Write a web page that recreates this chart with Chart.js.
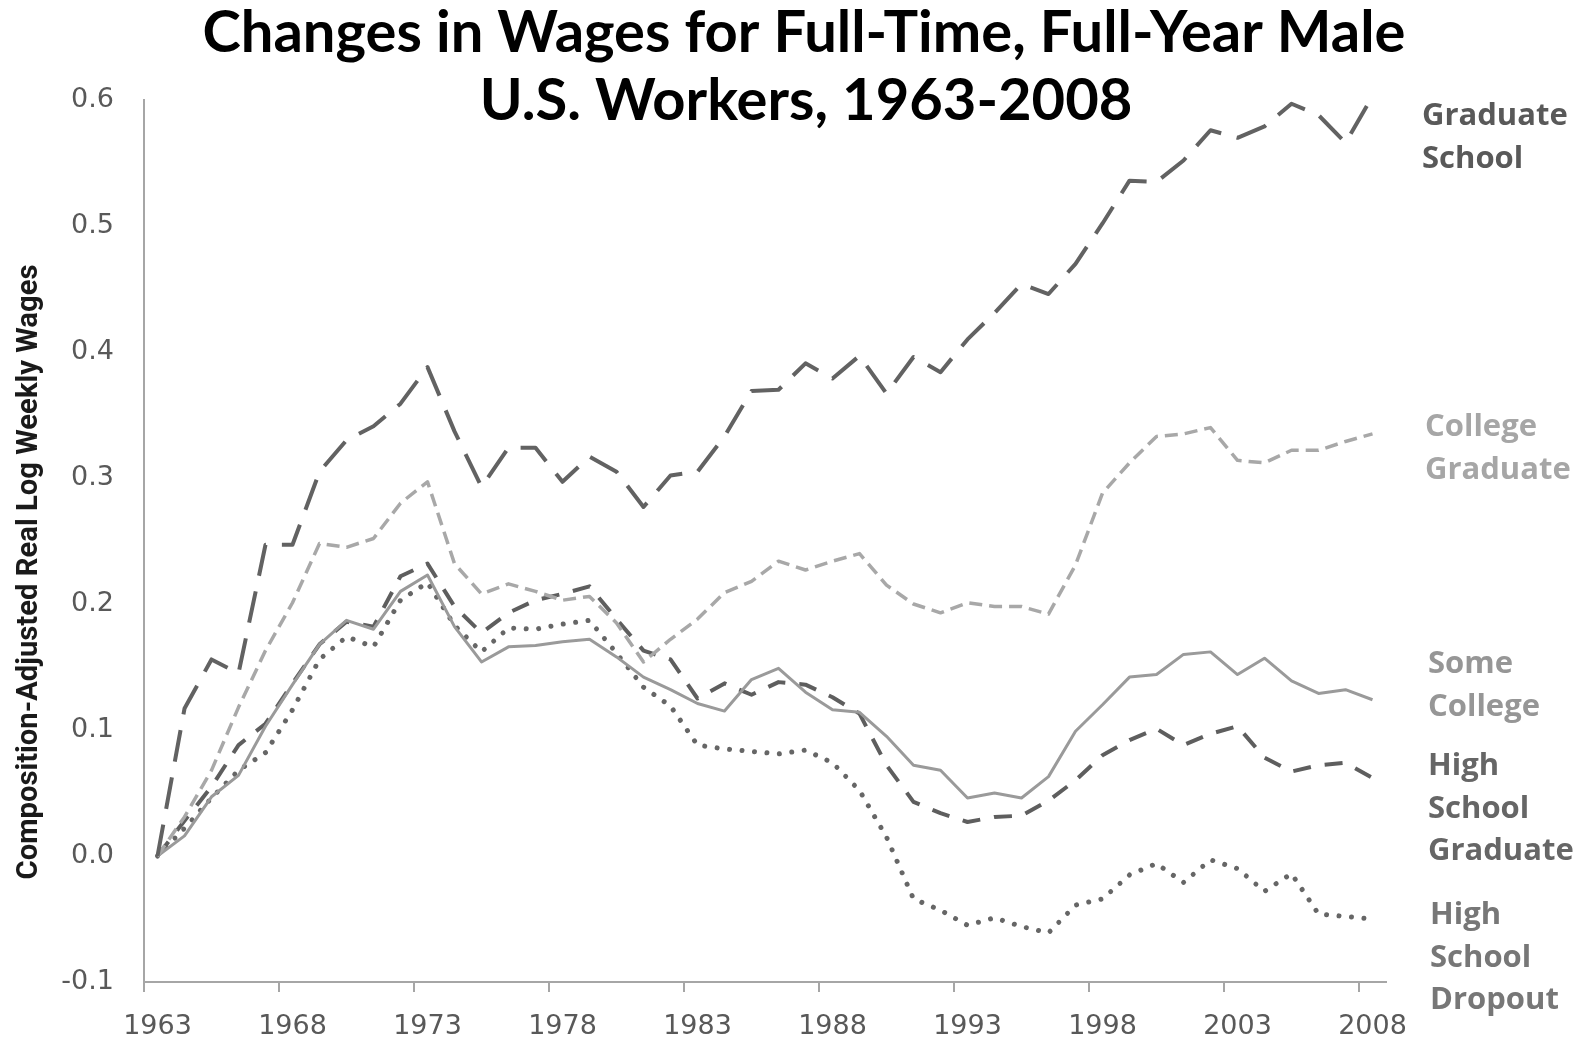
<!DOCTYPE html>
<html lang="en">
<head>
<meta charset="UTF-8">
<title>Changes in Wages for Full-Time, Full-Year Male U.S. Workers, 1963-2008</title>
<script src="https://cdn.jsdelivr.net/npm/chart.js"></script>
<style>
    html, body { margin: 0; padding: 0; background: #ffffff; }
    #wageChart { display: block; }
</style>
</head>
<body>
<canvas id="wageChart" width="1585" height="1039"></canvas>
<script>
    // categories
    var years = ['1963', '1964', '1965', '1966', '1967', '1968', '1969', '1970', '1971', '1972',
                 '1973', '1974', '1975', '1976', '1977', '1978', '1979', '1980', '1981', '1982',
                 '1983', '1984', '1985', '1986', '1987', '1988', '1989', '1990', '1991', '1992',
                 '1993', '1994', '1995', '1996', '1997', '1998', '1999', '2000', '2001', '2002',
                 '2003', '2004', '2005', '2006', '2007', '2008'];

    // composition-adjusted real log weekly wages, relative to 1963
    var gradSchool = [0, 0.117, 0.156, 0.145, 0.247, 0.247, 0.305, 0.330, 0.341, 0.359,
                      0.388, 0.337, 0.293, 0.324, 0.324, 0.297, 0.317, 0.305, 0.277, 0.302,
                      0.305, 0.333, 0.369, 0.370, 0.391, 0.379, 0.397, 0.367, 0.396, 0.384,
                      0.410, 0.431, 0.454, 0.446, 0.470, 0.502, 0.536, 0.535, 0.552, 0.576,
                      0.570, 0.579, 0.597, 0.588, 0.566, 0.603];
    var collegeGrad = [0, 0.031, 0.068, 0.118, 0.163, 0.201, 0.248, 0.245, 0.252, 0.280,
                       0.297, 0.232, 0.208, 0.216, 0.210, 0.203, 0.206, 0.185, 0.154, 0.172,
                       0.188, 0.209, 0.218, 0.234, 0.227, 0.234, 0.240, 0.215, 0.200, 0.193,
                       0.201, 0.198, 0.198, 0.192, 0.231, 0.288, 0.312, 0.333, 0.335, 0.340,
                       0.314, 0.312, 0.322, 0.322, 0.329, 0.335];
    var someCollege = [0, 0.016, 0.047, 0.064, 0.103, 0.136, 0.168, 0.187, 0.180, 0.210,
                       0.223, 0.182, 0.154, 0.166, 0.167, 0.170, 0.172, 0.158, 0.142, 0.132,
                       0.121, 0.115, 0.140, 0.149, 0.130, 0.116, 0.114, 0.095, 0.072, 0.068,
                       0.046, 0.050, 0.046, 0.063, 0.099, 0.120, 0.142, 0.144, 0.160, 0.162,
                       0.144, 0.157, 0.139, 0.129, 0.132, 0.124];
    var hsGrad = [0, 0.028, 0.055, 0.088, 0.105, 0.137, 0.168, 0.186, 0.182, 0.222,
                  0.232, 0.198, 0.177, 0.193, 0.203, 0.208, 0.214, 0.188, 0.163, 0.156,
                  0.125, 0.137, 0.128, 0.138, 0.136, 0.126, 0.113, 0.072, 0.043, 0.034,
                  0.027, 0.031, 0.032, 0.044, 0.060, 0.080, 0.092, 0.101, 0.088, 0.097,
                  0.103, 0.078, 0.067, 0.072, 0.074, 0.062];
    var hsDropout = [0, 0.022, 0.046, 0.068, 0.082, 0.116, 0.156, 0.174, 0.166, 0.203,
                     0.217, 0.183, 0.162, 0.181, 0.180, 0.184, 0.187, 0.161, 0.134, 0.119,
                     0.088, 0.085, 0.083, 0.081, 0.084, 0.074, 0.052, 0.015, -0.034, -0.043,
                     -0.055, -0.049, -0.056, -0.061, -0.039, -0.034, -0.015, -0.006, -0.021, -0.003,
                     -0.010, -0.028, -0.014, -0.046, -0.048, -0.050];

    var titleLines = ['Changes in Wages for Full-Time, Full-Year Male', 'U.S. Workers, 1963-2008'];
    var yTitle = 'Composition-Adjusted Real Log Weekly Wages';

    // text placed to the right of the plot, one block per series
    var sideLabels = [
        { lines: ['Graduate', 'School'], at: 0.587, x: 1422, color: '#595959' },
        { lines: ['College', 'Graduate'], at: 0.340, x: 1425, color: '#a6a6a6' },
        { lines: ['Some', 'College'], at: 0.152, x: 1428, color: '#969696' },
        { lines: ['High', 'School', 'Graduate'], at: 0.071, x: 1428, color: '#666666' },
        { lines: ['High', 'School', 'Dropout'], at: -0.047, x: 1430, color: '#777777' }
    ];

    var textPlugin = {
        id: 'textPlugin',
        afterDraw: function (chart) {
            var ctx = chart.ctx;
            var yScale = chart.scales.y;
            ctx.save();

            // title, fitted to the width it has in the original
            ctx.fillStyle = '#000000';
            ctx.textAlign = 'center';
            ctx.textBaseline = 'middle';
            var size = 50;
            ctx.font = 'bold ' + size + 'px Lato, "Open Sans", sans-serif';
            size = size * 1203 / ctx.measureText(titleLines[0]).width;
            ctx.font = 'bold ' + size.toFixed(1) + 'px Lato, "Open Sans", sans-serif';
            ctx.fillText(titleLines[0], 804, 33);
            ctx.fillText(titleLines[1], 806, 101);

            // y axis title
            ctx.save();
            ctx.translate(30, 572);
            ctx.rotate(-Math.PI / 2);
            ctx.font = 'bold 29px "Liberation Sans Narrow", "Roboto", "Liberation Sans", sans-serif';
            var tw = ctx.measureText(yTitle).width;
            ctx.scale(615 / tw, 1);
            ctx.fillStyle = '#1a1a1a';
            ctx.fillText(yTitle, 0, 0);
            ctx.restore();

            // series labels
            ctx.textAlign = 'left';
            ctx.font = 'bold 31px "Open Sans", sans-serif';
            sideLabels.forEach(function (lab) {
                var y0 = yScale.getPixelForValue(lab.at);
                ctx.fillStyle = lab.color;
                lab.lines.forEach(function (line, k) {
                    ctx.fillText(line, lab.x, y0 + k * 42.5);
                });
            });
            ctx.restore();
        }
    };

    var tickFont = { family: '"DejaVu Sans", Verdana, sans-serif', size: 27 };

    new Chart(document.getElementById('wageChart'), {
        type: 'line',
        data: {
            labels: years,
            datasets: [
                { label: 'Graduate School', data: gradSchool, borderColor: '#626262', borderWidth: 4,
                  borderDash: [32, 16] },
                { label: 'College Graduate', data: collegeGrad, borderColor: '#a8a8a8', borderWidth: 3.5,
                  borderDash: [13, 7] },
                { label: 'Some College', data: someCollege, borderColor: '#9a9a9a', borderWidth: 3 },
                { label: 'High School Graduate', data: hsGrad, borderColor: '#5e5e5e', borderWidth: 4,
                  borderDash: [18, 14] },
                { label: 'High School Dropout', data: hsDropout, borderColor: '#666666', borderWidth: 5,
                  borderDash: [0.01, 12.5], borderCapStyle: 'round' }
            ]
        },
        options: {
            responsive: false,
            animation: false,
            devicePixelRatio: 1,
            elements: {
                point: { radius: 0 },
                line: { tension: 0, fill: false, borderJoinStyle: 'round' }
            },
            layout: { padding: { left: 0, right: 199, top: 100, bottom: 0 } },
            plugins: {
                legend: { display: false },
                title: { display: false },
                tooltip: { enabled: false }
            },
            scales: {
                x: {
                    offset: true,
                    afterFit: function (scale) { scale.height = 57; },
                    border: { display: true, color: '#a6a6a6', width: 2 },
                    grid: {
                        offset: true,
                        drawOnChartArea: false,
                        drawTicks: true,
                        tickLength: 10,
                        lineWidth: 2,
                        color: function (c) {
                            return (c.index % 5 === 0 && c.index < years.length) ? '#a6a6a6' : 'rgba(0,0,0,0)';
                        }
                    },
                    ticks: {
                        autoSkip: false,
                        maxRotation: 0,
                        padding: 19,
                        color: '#595959',
                        font: tickFont,
                        callback: function (val, i) { return i % 5 === 0 ? years[i] : ''; }
                    }
                },
                y: {
                    min: -0.1,
                    max: 0.6,
                    afterFit: function (scale) { scale.width = 144; },
                    border: { display: true, color: '#a6a6a6', width: 2 },
                    grid: { drawOnChartArea: false, drawTicks: false },
                    ticks: {
                        stepSize: 0.1,
                        padding: 30,
                        color: '#595959',
                        font: tickFont,
                        callback: function (v) {
                            return Math.abs(v) < 1e-9 ? '0.0' : Number(v).toFixed(1);
                        }
                    }
                }
            }
        },
        plugins: [textPlugin]
    });
</script>
</body>
</html>
